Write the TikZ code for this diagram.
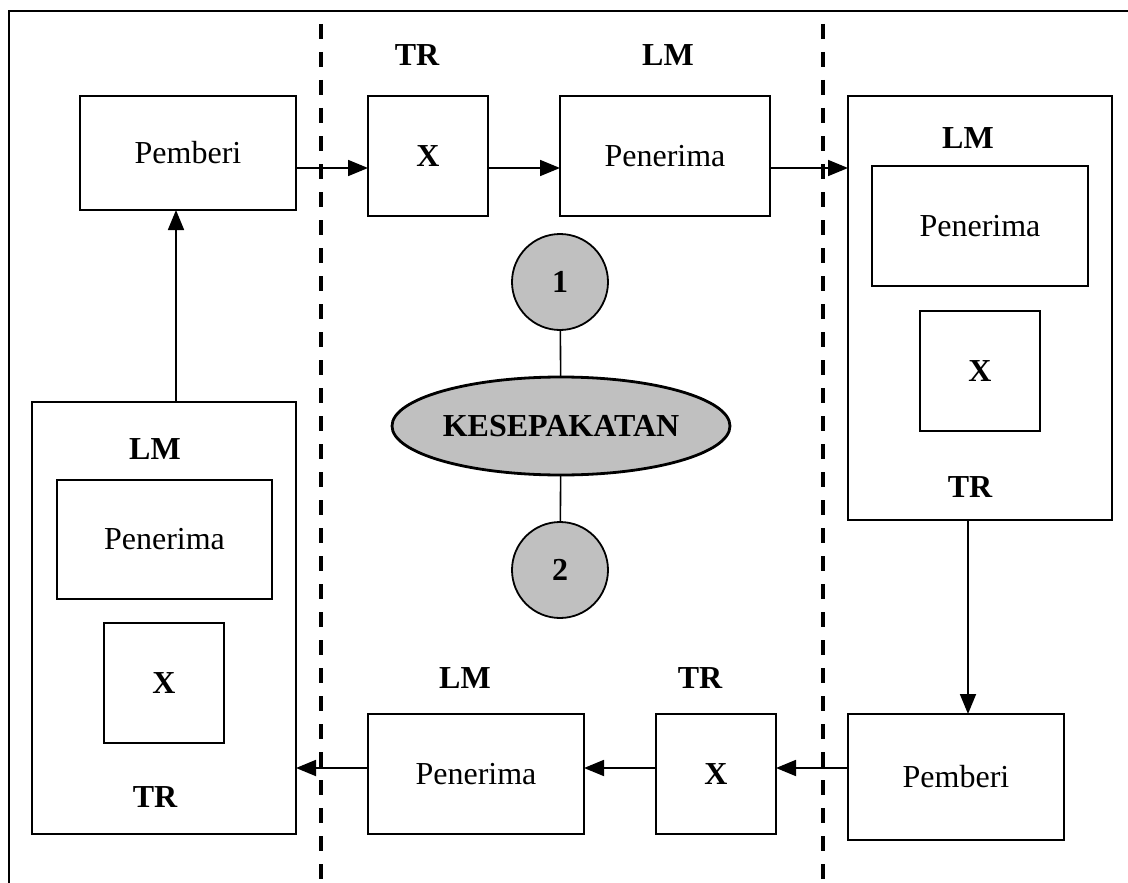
\documentclass[tikz,border=0pt]{standalone}
\usepackage{fontspec}
\setmainfont{Liberation Serif}
\usetikzlibrary{shapes.geometric,arrows.meta}
\begin{document}
\begin{tikzpicture}[x=1pt,y=-1pt,
  every node/.style={font=\fontsize{32}{38}\selectfont, outer sep=0pt, inner sep=0pt},
  bx/.style={draw, line width=1.8pt},
  lbl/.style={font=\fontsize{32}{38}\selectfont\bfseries},
  bxb/.style={bx, font=\fontsize{32}{38}\selectfont\bfseries},
  arr/.style={line width=1.8pt, -{Triangle[length=20pt,width=16pt]}},
  sep/.style={line width=4pt, dash pattern=on 15pt off 13pt},
  circ/.style={circle, draw, line width=1.8pt, fill={rgb,255:red,192;green,192;blue,192}, minimum size=96pt, font=\fontsize{32}{38}\selectfont\bfseries}
]
\useasboundingbox (0,0) rectangle (1128,883);
% frame
\coordinate (ftl) at (9,11);
\coordinate (ftr) at (1128,11);
\coordinate (fbl) at (9,883);
\draw[line width=2pt] (fbl) -- (ftl) -- (ftr);
% separators
\coordinate (s1a) at (320.5,24);
\coordinate (s1b) at (320.5,883);
\coordinate (s2a) at (823,24);
\coordinate (s2b) at (823,883);
\draw[sep] (s1a) -- (s1b);
\draw[sep] (s2a) -- (s2b);

% top row
\node[bx, minimum width=216pt, minimum height=114pt] (pb1) at (188,153) {Pemberi};
\node[bxb, minimum width=120pt, minimum height=120pt] (x1) at (428,156) {X};
\node[bx, minimum width=210pt, minimum height=120pt] (pn1) at (665,156) {Penerima};
\node[lbl] (tr1) at (417,55) {TR};
\node[lbl] (lm1) at (668,55) {LM};

% right big box
\node[bx, minimum width=264pt, minimum height=424pt] (rb) at (980,308) {};
\node[bx, minimum width=216pt, minimum height=120pt] (rpn) at (980,226) {Penerima};
\node[bxb, minimum width=120pt, minimum height=120pt] (rx) at (980,371) {X};
\node[lbl] (rlm) at (968,138) {LM};
\node[lbl] (rtr) at (970,487) {TR};

% bottom row
\node[bx, minimum width=216pt, minimum height=126pt] (pb2) at (956,777) {Pemberi};
\node[bxb, minimum width=120pt, minimum height=120pt] (x2) at (716,774) {X};
\node[bx, minimum width=216pt, minimum height=120pt] (pn2) at (476,774) {Penerima};
\node[lbl] (tr2) at (700,678) {TR};
\node[lbl] (lm2) at (465,678) {LM};

% left big box
\node[bx, minimum width=264pt, minimum height=432pt] (lb) at (164,618) {};
\node[bx, minimum width=215pt, minimum height=119pt] (lpn) at (164.5,539.5) {Penerima};
\node[bxb, minimum width=120pt, minimum height=120pt] (lx) at (164,683) {X};
\node[lbl] (llm) at (155,449) {LM};
\node[lbl] (ltr) at (155,797) {TR};

% center
\node[circ] (c1) at (560,282) {1};
\node[ellipse, draw, line width=2.8pt, fill={rgb,255:red,192;green,192;blue,192}, minimum width=338pt, minimum height=98pt, font=\fontsize{32}{38}\selectfont\bfseries] (ks) at (561,426) {KESEPAKATAN};
\node[circ] (c2) at (560,570) {2};
\draw[line width=1.6pt] (c1) -- (ks);
\draw[line width=1.6pt] (ks) -- (c2);

% arrows
\coordinate (ytop) at (0,168);
\coordinate (ybot) at (0,768);
\coordinate (xr) at (968,0);
\coordinate (xl) at (176,0);
\draw[arr] (pb1.east |- ytop) -- (x1.west |- ytop);
\draw[arr] (x1.east |- ytop) -- (pn1.west |- ytop);
\draw[arr] (pn1.east |- ytop) -- (rb.west |- ytop);
\draw[arr] (rb.south -| xr) -- (pb2.north -| xr);
\draw[arr] (pb2.west |- ybot) -- (x2.east |- ybot);
\draw[arr] (x2.west |- ybot) -- (pn2.east |- ybot);
\draw[arr] (pn2.west |- ybot) -- (lb.east |- ybot);
\draw[arr] (lb.north -| xl) -- (pb1.south -| xl);
\end{tikzpicture}
\end{document}
